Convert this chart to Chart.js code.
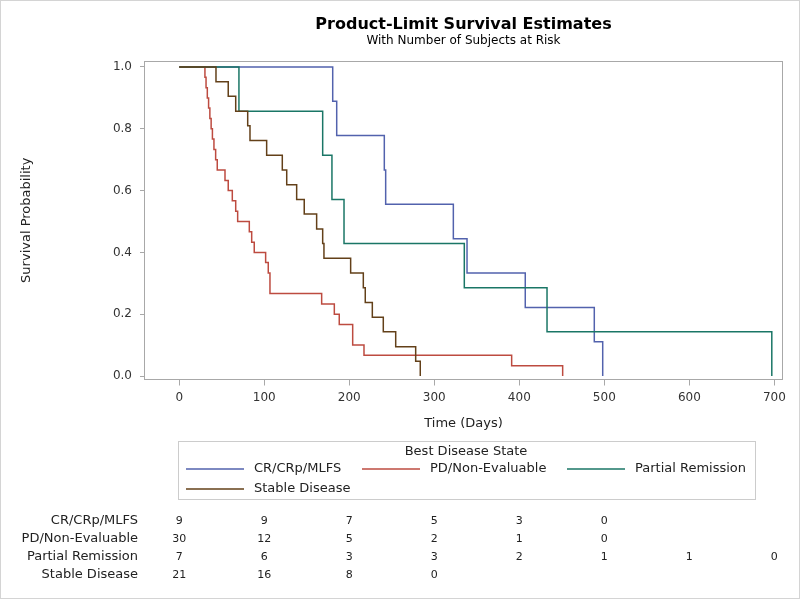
<!DOCTYPE html>
<html>
<head>
<meta charset="utf-8">
<script src="https://cdn.jsdelivr.net/npm/chart.js@4.4.1/dist/chart.umd.min.js"></script>
<style>
  html, body { margin: 0; padding: 0; background: #fff; }
</style>
</head>
<body>
<canvas id="km" width="800" height="599"></canvas>
<script>
// survival curves: event time (days) and survival after it
const crTimes = [0, 180.5, 185.2, 241.2, 242.8, 322.4, 338.5, 407, 488.2, 498.1];
const crSurv  = [1, 0.889, 0.778, 0.667, 0.556, 0.444, 0.333, 0.222, 0.111, 0];

const pdTimes = [0, 30.2, 31.5, 33, 34.5, 36, 37.5, 39, 40.8, 42.8, 44.7, 53.8, 57.6, 62.4, 66.4, 68.7,
                 82.4, 85.2, 88.2, 101.6, 104.7, 106.7, 167.5, 182.4, 188.2, 204, 217.3, 391, 451];
const pdSurv  = [1, 0.967, 0.933, 0.9, 0.867, 0.833, 0.8, 0.767, 0.733, 0.7, 0.667, 0.633, 0.6, 0.567, 0.533, 0.5,
                 0.467, 0.433, 0.4, 0.367, 0.333, 0.267, 0.233, 0.2, 0.167, 0.1, 0.067, 0.033, 0];

const prTimes = [0, 70.2, 168.7, 179.6, 193.8, 335.3, 432.6, 697];
const prSurv  = [1, 0.857, 0.714, 0.571, 0.429, 0.286, 0.143, 0];

const sdTimes = [0, 43.2, 57.6, 66.4, 80.5, 83.2, 102.8, 121.2, 126.4, 138.1, 147, 161.6, 168.7, 170.2,
                 201.6, 216.5, 218.8, 227.1, 240, 254.6, 278.1, 283.5];
const sdSurv  = [1, 0.952, 0.905, 0.857, 0.810, 0.762, 0.714, 0.667, 0.619, 0.571, 0.524, 0.476, 0.429, 0.381,
                 0.333, 0.286, 0.238, 0.190, 0.143, 0.095, 0.048, 0];

const groups = ['CR/CRp/MLFS', 'PD/Non-Evaluable', 'Partial Remission', 'Stable Disease'];

const xTicks = [0, 100, 200, 300, 400, 500, 600, 700];
const yTicks = [0, 0.2, 0.4, 0.6, 0.8, 1.0];

// number at risk table
const riskTimes = [0, 100, 200, 300, 400, 500, 600, 700];
const crRisk = [9, 9, 7, 5, 3, 0];
const pdRisk = [30, 12, 5, 2, 1, 0];
const prRisk = [7, 6, 3, 3, 2, 1, 1, 0];
const sdRisk = [21, 16, 8, 0];

const colors = ['#5262ad', '#bd4b40', '#1a7666', '#634019'];

Chart.defaults.font.family = "'DejaVu Sans', sans-serif";

function toPoints(times, surv) {
  return times.map((t, i) => ({ x: t, y: surv[i] }));
}

// title, frame, legend and at-risk table
const extras = {
  id: 'extras',
  afterDraw(chart) {
    const { ctx, chartArea: a, scales: { x } } = chart;
    ctx.save();

    // outer border of the picture
    ctx.strokeStyle = '#d4d4d4';
    ctx.lineWidth = 1;
    ctx.strokeRect(0.5, 0.5, 799, 598);

    // plot frame
    ctx.strokeStyle = '#a8a8a8';
    ctx.strokeRect(Math.round(a.left) - 0.5, Math.round(a.top) + 0.5,
                   Math.round(a.right - a.left) + 1, Math.round(a.bottom - a.top) - 1);

    const cx = (a.left + a.right) / 2;
    ctx.fillStyle = '#000';
    ctx.textAlign = 'center';
    ctx.textBaseline = 'middle';
    ctx.font = "bold 16px 'DejaVu Sans'";
    ctx.fillText('Product-Limit Survival Estimates', cx, 25);
    ctx.font = "12px 'DejaVu Sans'";
    ctx.fillText('With Number of Subjects at Risk', cx, 41);

    // legend box
    ctx.strokeStyle = '#cccccc';
    ctx.strokeRect(178.5, 441.5, 577, 58);
    ctx.fillStyle = '#222';
    ctx.font = "13px 'DejaVu Sans'";
    ctx.fillText('Best Disease State', 466, 452);

    const slots = [[186, 469], [362, 469], [567, 469], [186, 489]];
    ctx.textAlign = 'left';
    groups.forEach((g, i) => {
      const [lx, ly] = slots[i];
      ctx.strokeStyle = colors[i];
      ctx.lineWidth = 1.5;
      ctx.beginPath();
      ctx.moveTo(lx, ly);
      ctx.lineTo(lx + 58, ly);
      ctx.stroke();
      ctx.fillStyle = '#222';
      ctx.fillText(g, lx + 68, ly);
    });

    // subjects at risk
    const rows = [crRisk, pdRisk, prRisk, sdRisk];
    const rowY = [521, 539, 557, 575];
    rows.forEach((counts, r) => {
      ctx.textAlign = 'right';
      ctx.font = "13px 'DejaVu Sans'";
      ctx.fillStyle = '#222';
      ctx.fillText(groups[r], 138, rowY[r]);
      ctx.textAlign = 'center';
      ctx.font = "11px 'DejaVu Sans'";
      counts.forEach((n, j) => {
        ctx.fillText(String(n), x.getPixelForValue(riskTimes[j]), rowY[r]);
      });
    });

    ctx.restore();
  }
};

const series = [
  toPoints(crTimes, crSurv),
  toPoints(pdTimes, pdSurv),
  toPoints(prTimes, prSurv),
  toPoints(sdTimes, sdSurv)
];

new Chart(document.getElementById('km'), {
  type: 'line',
  data: {
    datasets: groups.map((g, i) => ({
      label: g,
      data: series[i],
      borderColor: colors[i],
      borderWidth: 1.5,
      pointRadius: 0,
      stepped: 'before',
      fill: false,
      order: 4 - i
    }))
  },
  options: {
    responsive: false,
    animation: false,
    layout: { padding: { top: 61, right: 18, left: 0, bottom: 0 } },
    plugins: {
      legend: { display: false },
      tooltip: { enabled: false }
    },
    scales: {
      x: {
        type: 'linear',
        min: -40.3,
        max: 709,
        afterBuildTicks: s => { s.ticks = xTicks.map(v => ({ value: v })); },
        afterFit: s => { s.height = 219.5; },
        grid: { drawOnChartArea: false, drawTicks: true, tickLength: 6, color: '#a8a8a8' },
        border: { display: false },
        ticks: { padding: 5, color: '#333', font: { size: 12 }, maxRotation: 0, autoSkip: false },
        title: { display: true, text: 'Time (Days)', color: '#222', font: { size: 13 },
                 padding: { top: 0, bottom: 168 } }
      },
      y: {
        type: 'linear',
        min: -0.0113,
        max: 1.0194,
        afterBuildTicks: s => { s.ticks = yTicks.map(v => ({ value: v })); },
        afterFit: s => { s.width = 145; },
        grid: { drawOnChartArea: false, drawTicks: true, tickLength: 5, color: '#a8a8a8' },
        border: { display: false },
        ticks: { padding: 8, color: '#333', font: { size: 12 }, callback: v => v.toFixed(1) },
        title: { display: true, text: 'Survival Probability', color: '#222', font: { size: 13 },
                 padding: { top: 19, bottom: 0 } }
      }
    }
  },
  plugins: [extras]
});
</script>
</body>
</html>
